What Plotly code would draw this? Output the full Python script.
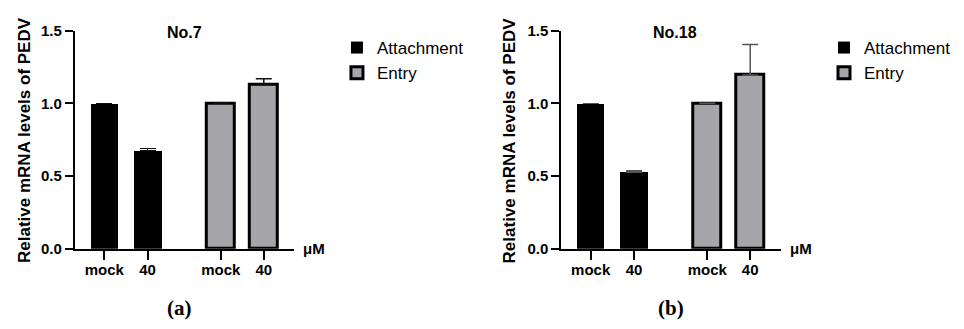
import plotly.graph_objects as go

# ---- data ----
tick_labels = ["mock", "40"]
series_names = ["Attachment", "Entry"]
no7_attachment = [1.0, 0.675]
no7_attachment_sd = [None, 0.015]
no7_entry = [1.0, 1.13]
no7_entry_sd = [None, 0.04]
no18_attachment = [1.0, 0.527]
no18_attachment_sd = [None, 0.011]
no18_entry = [1.0, 1.195]
no18_entry_sd = [None, 0.21]
panel_titles = ["No.7", "No.18"]
panel_letters = ["(a)", "(b)"]
y_ticks = [0.0, 0.5, 1.0, 1.5]

# ---- layout constants ----
PAGE_W, PAGE_H = 964, 329
OFF = 8  # default page body margin
W, H = PAGE_W - 2 * OFF, PAGE_H - 2 * OFF


def px(x):
    return (x - OFF) / W


def py(y):
    return 1 - (y - OFF) / H


group_pos = {"Attachment": [0.0, 1.0], "Entry": [2.69, 3.68]}
colors = {"Attachment": "#000000", "Entry": "#A6A6AA"}
x_range = [-0.68, 4.38]
dom_a = [px(75), px(295)]
dom_b = [px(563), px(783)]
y_dom = [py(248.7), py(30.7)]
SANS = "Liberation Sans, Arial, sans-serif"

fig = go.Figure()

panels = [
    ("x", "y", "legend", [no7_attachment, no7_entry], [no7_attachment_sd, no7_entry_sd], "#111111"),
    ("x2", "y2", "legend2", [no18_attachment, no18_entry], [no18_attachment_sd, no18_entry_sd], "#555555"),
]

for xa, ya, lg, vals, sds, ecol in panels:
    for name, v, sd in zip(series_names, vals, sds):
        fig.add_trace(go.Bar(
            x=group_pos[name], y=v, name=name, xaxis=xa, yaxis=ya, legend=lg,
            width=0.64,
            marker=dict(color=colors[name],
                        line=dict(color="#000000", width=3 if name == "Entry" else 0)),
            error_y=dict(type="data", symmetric=False, array=sd,
                         arrayminus=[None, 0], color=ecol, thickness=1.5, width=8),
        ))

all_pos = group_pos["Attachment"] + group_pos["Entry"]
all_txt = tick_labels + tick_labels

common_x = dict(range=x_range, tickvals=all_pos, ticktext=all_txt, showline=True,
                linecolor="#000000", linewidth=2, ticks="outside", ticklen=9, tickwidth=2,
                tickcolor="#000000", showgrid=False, zeroline=False, fixedrange=True,
                automargin=False, ticklabelstandoff=-3,
                tickfont=dict(family=SANS, size=15, color="#000000", weight="bold"))
common_y = dict(range=[0, 1.5], tickvals=y_ticks, ticktext=["0.0", "0.5", "1.0", "1.5"],
                showline=True, linecolor="#000000", linewidth=2, ticks="outside", ticklen=8,
                tickwidth=2, tickcolor="#000000", showgrid=False, zeroline=False,
                domain=y_dom, automargin=False,
                tickfont=dict(family=SANS, size=15, color="#000000", weight="bold"))

leg_common = dict(xanchor="left", yanchor="top",
                  font=dict(family=SANS, size=17, color="#000000"),
                  tracegroupgap=11, itemwidth=30, bgcolor="rgba(0,0,0,0)")

fig.update_layout(
    width=W, height=H, margin=dict(l=0, r=0, t=0, b=0),
    plot_bgcolor="white", paper_bgcolor="white", barmode="overlay", bargap=0,
    xaxis=dict(common_x, domain=dom_a, anchor="y"),
    xaxis2=dict(common_x, domain=dom_b, anchor="y2"),
    yaxis=dict(common_y, anchor="x"),
    yaxis2=dict(common_y, anchor="x2"),
    showlegend=True,
    legend=dict(leg_common, x=px(338), y=py(30)),
    legend2=dict(leg_common, x=px(827), y=py(30)),
)

# titles, unit labels, panel letters, y titles
title_x = [185, 677]
ytitle_x = [25, 512]
letter_x = [180, 673]
for i, xa in enumerate(["x", "x2"]):
    xref = xa + " domain"
    fig.add_annotation(text=panel_titles[i], xref="paper", yref="paper",
                       x=px(title_x[i]), y=py(32),
                       showarrow=False, xanchor="center", yanchor="middle",
                       font=dict(family=SANS, size=16, color="#000000", weight="bold"))
    fig.add_annotation(text="μM", xref=xref, yref="paper", x=1, y=py(248),
                       xshift=7, showarrow=False, xanchor="left", yanchor="middle",
                       font=dict(family=SANS, size=15, color="#000000", weight="bold"))
    fig.add_annotation(text="Relative mRNA levels of PEDV", xref="paper", yref="paper",
                       x=px(ytitle_x[i]), y=py(140), textangle=-90,
                       showarrow=False, xanchor="center", yanchor="middle",
                       font=dict(family=SANS, size=17, color="#000000", weight="bold"))
    fig.add_annotation(text="<b>" + panel_letters[i] + "</b>", xref="paper", yref="paper",
                       x=px(letter_x[i]), y=0, yanchor="bottom",
                       showarrow=False, xanchor="center", borderpad=0,
                       font=dict(family="Liberation Serif", size=21, color="#000000"))

fig.write_html("out.html")
